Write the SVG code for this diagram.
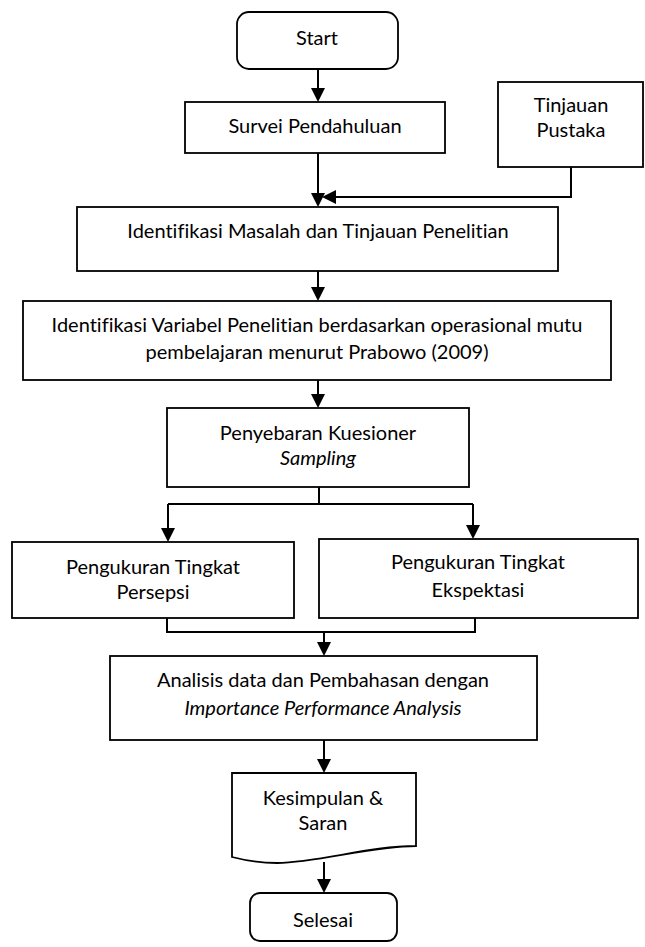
<svg xmlns="http://www.w3.org/2000/svg" width="645" height="947" viewBox="0 0 645 947">
<style>
.box{fill:#fff;stroke:#000;stroke-width:1.8}
.t{font-family:Lato,"Liberation Sans",sans-serif;font-size:20px;fill:#000;text-anchor:middle;font-variant-ligatures:none}
.i{font-style:italic}
.c{fill:none;stroke:#000;stroke-width:2}
</style>
<defs>
<marker id="ah" viewBox="0 0 14 14" refX="12" refY="7" markerWidth="14" markerHeight="14" markerUnits="userSpaceOnUse" orient="auto">
<path d="M0,0 L14,7 L0,14 Z" fill="#000"/>
</marker>
</defs>
<rect width="645" height="947" fill="#fff"/>
<g id="connectors">
<path class="c" d="M318,69 V100" marker-end="url(#ah)"/>
<path class="c" d="M318,153 V205" marker-end="url(#ah)"/>
<path class="c" d="M571,167 V197 H324" marker-end="url(#ah)"/>
<path class="c" d="M318,271 V299" marker-end="url(#ah)"/>
<path class="c" d="M318,380 V406" marker-end="url(#ah)"/>
<path class="c" d="M319,487 V504"/>
<path class="c" d="M168,504 H473"/>
<path class="c" d="M168,504 V540" marker-end="url(#ah)"/>
<path class="c" d="M473,504 V537" marker-end="url(#ah)"/>
<path class="c" d="M167,618 V632 H475 V618"/>
<path class="c" d="M324,632 V654" marker-end="url(#ah)"/>
<path class="c" d="M324,740 V771" marker-end="url(#ah)"/>
<path class="c" d="M324,862 V891" marker-end="url(#ah)"/>
</g>
<g id="start">
<rect class="box" x="237" y="12" width="161" height="57" rx="12"/>
<text class="t" x="317" y="45">Start</text>
</g>
<g id="survei">
<rect class="box" x="185" y="102" width="260" height="51"/>
<text class="t" x="315" y="133">Survei Pendahuluan</text>
</g>
<g id="tinjauan">
<rect class="box" x="498" y="82" width="145" height="85"/>
<text class="t" x="571" y="112">Tinjauan</text>
<text class="t" x="571" y="137">Pustaka</text>
</g>
<g id="masalah">
<rect class="box" x="77" y="207" width="481" height="64"/>
<text class="t" x="318" y="238">Identifikasi Masalah dan Tinjauan Penelitian</text>
</g>
<g id="variabel">
<rect class="box" x="23" y="301" width="588" height="79"/>
<text class="t" x="317" y="332">Identifikasi Variabel Penelitian berdasarkan operasional mutu</text>
<text class="t" x="317" y="359">pembelajaran menurut Prabowo (2009)</text>
</g>
<g id="penyebaran">
<rect class="box" x="167" y="408" width="302" height="79"/>
<text class="t" x="318" y="440">Penyebaran Kuesioner</text>
<text class="t i" x="318" y="465">Sampling</text>
</g>
<g id="persepsi">
<rect class="box" x="12" y="542" width="282" height="76"/>
<text class="t" x="153" y="574">Pengukuran Tingkat</text>
<text class="t" x="153" y="599">Persepsi</text>
</g>
<g id="ekspektasi">
<rect class="box" x="319" y="539" width="319" height="79"/>
<text class="t" x="478" y="569">Pengukuran Tingkat</text>
<text class="t" x="478" y="597">Ekspektasi</text>
</g>
<g id="analisis">
<rect class="box" x="110" y="656" width="427" height="84"/>
<text class="t" x="323" y="687">Analisis data dan Pembahasan dengan</text>
<text class="t i" x="323" y="715">Importance Performance Analysis</text>
</g>
<g id="kesimpulan">
<path class="box" d="M232,773 H416 V846 C370,846 320,862 277,863 Q255,863 232,857 Z"/>
<text class="t" x="323" y="805">Kesimpulan &amp;</text>
<text class="t" x="323" y="830">Saran</text>
</g>
<g id="selesai">
<rect class="box" x="250" y="893" width="147" height="48" rx="10"/>
<text class="t" x="323" y="927">Selesai</text>
</g>
</svg>
